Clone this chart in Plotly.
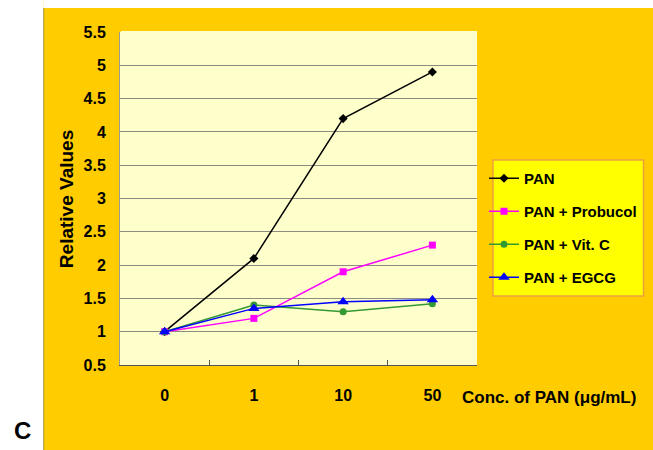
import plotly.graph_objects as go

categories = ["0", "1", "10", "50"]
pan = [1.0, 2.1, 4.2, 4.9]
probucol = [1.0, 1.2, 1.9, 2.3]
vitc = [1.0, 1.4, 1.3, 1.42]
egcg = [1.0, 1.35, 1.45, 1.48]
series_names = ["PAN", "PAN + Probucol", "PAN + Vit. C", "PAN + EGCG"]
y_ticks = [0.5, 1, 1.5, 2, 2.5, 3, 3.5, 4, 4.5, 5, 5.5]
y_labels = ["0.5", "1", "1.5", "2", "2.5", "3", "3.5", "4", "4.5", "5", "5.5"]

W, H = 653, 450
L, R, T, B = 120, 175, 32, 85
PW, PH = W - L - R, H - T - B


def px(x):
    return (x - L) / PW


def py(y):
    return (H - B - y) / PH


FONT = "Liberation Sans, Arial, sans-serif"

styles = [
    dict(color="#000000", symbol="diamond", size=7),
    dict(color="#FF00FF", symbol="square", size=7),
    dict(color="#339933", symbol="circle", size=7),
    dict(color="#0000FF", symbol="triangle-up", size=10),
]

fig = go.Figure()
for i, (name, vals) in enumerate(zip(series_names, [pan, probucol, vitc, egcg])):
    st = styles[i]
    fig.add_trace(go.Scatter(
        x=categories, y=vals, name=name, mode="lines+markers",
        legendgroup=f"g{i}",
        line=dict(color=st["color"], width=1.5),
        marker=dict(color=st["color"], symbol=st["symbol"], size=st["size"],
                    line=dict(width=0)),
    ))

shapes = [
    # white margins outside the yellow panel
    dict(type="rect", xref="paper", yref="paper", x0=px(-5), x1=px(43), y0=py(H + 5), y1=py(-5),
         fillcolor="white", line=dict(width=0), layer="above"),
    dict(type="rect", xref="paper", yref="paper", x0=px(43), x1=px(W + 5), y0=py(8), y1=py(-5),
         fillcolor="white", line=dict(width=0), layer="above"),
    dict(type="line", xref="paper", yref="paper", x0=px(43.5), x1=px(43.5), y0=py(8), y1=py(H + 5),
         line=dict(color="#A09A60", width=1), layer="above"),
    # hide top grid line
    dict(type="line", xref="paper", yref="paper", x0=px(121), x1=1, y0=1, y1=1,
         line=dict(color="#FFFFCC", width=2), layer="above"),
    # legend box
    dict(type="rect", xref="paper", yref="paper", x0=px(494), x1=px(645), y0=py(296), y1=py(160),
         fillcolor="#FFFF00", line=dict(color="#F0A040", width=1.5), layer="below"),
]

annotations = [
    dict(text="Relative Values", x=px(66), y=py(199), xref="paper", yref="paper",
         xanchor="center", yanchor="middle",
         textangle=-90, showarrow=False, font=dict(family=FONT, size=19, color="black", weight="bold")),
    dict(text="Conc. of PAN (μg/mL)", x=px(461), y=py(397), xref="paper", yref="paper",
         xanchor="left", yanchor="middle", showarrow=False,
         font=dict(family=FONT, size=17, color="black", weight="bold")),
    dict(text="C", x=px(22), y=py(430), xref="paper", yref="paper", showarrow=False,
         xanchor="center", yanchor="middle",
         font=dict(family=FONT, size=24, color="black", weight="bold")),
]

fig.update_layout(
    width=W, height=H,
    margin=dict(l=L, r=R, t=T, b=B, pad=0),
    paper_bgcolor="#FFCC00",
    plot_bgcolor="#FFFFCC",
    font=dict(family=FONT, color="black"),
    showlegend=True,
    legend=dict(x=px(484), y=py(162), xanchor="left", yanchor="top",
                bgcolor="rgba(0,0,0,0)", borderwidth=0,
                traceorder="grouped", tracegroupgap=10.5,
                font=dict(family=FONT, size=15, color="black", weight="bold")),
    shapes=shapes,
    annotations=annotations,
    xaxis=dict(type="category", range=[-0.5, 3.5], showgrid=False,
               showline=True, linecolor="#555555", linewidth=1,
               ticks="inside", tickson="boundaries", ticklen=5, tickcolor="#555555",
               tickfont=dict(family=FONT, size=16, color="black", weight="bold"),
               ticklabelstandoff=16, zeroline=False),
    yaxis=dict(range=[0.5, 5.5], tickvals=y_ticks, ticktext=y_labels,
               showgrid=True, gridcolor="#8C8C80", gridwidth=1,
               showline=True, linecolor="#999999", linewidth=1,
               ticks="", tickfont=dict(family=FONT, size=16, color="black", weight="bold"),
               ticklabelstandoff=10, zeroline=False),
)

fig.write_html("out.html", config={"displayModeBar": False},
               post_script="document.body.style.margin='0';document.body.style.padding='0';")
